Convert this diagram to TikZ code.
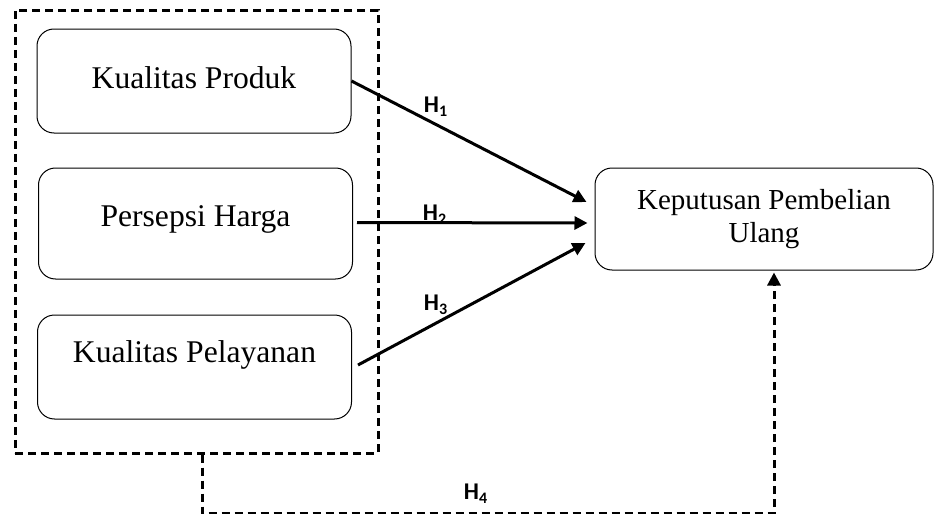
\documentclass[tikz,border=0pt]{standalone}
\usepackage{fontspec}
\setmainfont{Liberation Serif}
\newfontfamily\hfont{Carlito}
\usetikzlibrary{positioning, shapes, arrows.meta, calc}
\tikzset{
  roundbox/.style={draw, rounded corners=8.5pt, line width=0.5pt, inner sep=0,
    minimum width=157pt, minimum height=52pt, font=\fontsize{15.8}{18}\selectfont},
  targetbox/.style={draw, rounded corners=8.5pt, line width=0.5pt, inner sep=0,
    minimum width=169pt, minimum height=51pt, align=center,
    font=\fontsize{14.5}{16.5}\selectfont},
  groupbox/.style={draw, line width=1.5pt, dash pattern=on 4pt off 2.5pt,
    minimum width=181.5pt, minimum height=221.5pt, inner sep=0},
  arrowline/.style={line width=1.5pt, -{Triangle[length=6.5pt,width=6.5pt]}},
  dashline/.style={line width=1.5pt, dash pattern=on 4pt off 2.5pt,
    -{Triangle[length=6.5pt,width=6.5pt]}},
  hlabel/.style={font=\hfont\bfseries\fontsize{12}{13}\selectfont, inner sep=0}
}
\begin{document}
\begin{tikzpicture}[x=0.5pt, y=-0.5pt]
\useasboundingbox (0,0) rectangle (934,514);

% variabel bebas
\node [groupbox] (grup) at (196.5,231.5) {};
\node [roundbox, text depth=3.5pt] (produk) at (194,81) {Kualitas Produk};
\node [roundbox, minimum height=55.5pt, text depth=7.9pt] (harga) at (195.5,223.5) {Persepsi Harga};
\node [roundbox, text depth=15.4pt] (pelayanan) at (194.5,367) {Kualitas Pelayanan};

% variabel terikat
\node [targetbox] (keputusan) at (764,219) {Keputusan Pembelian\\Ulang};

\coordinate (t1) at ($(keputusan.west)+(-8,-17)$);
\coordinate (t2) at ($(keputusan.west)+(-7,4)$);
\coordinate (t3) at ($(keputusan.west)+(-9,24)$);
\draw[arrowline] (produk.east) -- (t1);
\draw[arrowline] ($(harga.east)+(4,-1)$) -- (t2);
\draw[arrowline] ($(pelayanan.east)+(6,-2)$) -- (t3);

%\draw[dashline] (grup.south) |- (keputusan.south);
\coordinate (h4start) at ($(grup.south)+(6,0)$);
\coordinate (h4end) at ($(keputusan.south)+(10,2)$);
\draw[dashline] (h4start) -- ++(0,59) -| (h4end);

\node [hlabel] (h1) at (436,107) {H\textsubscript{1}};
\node [hlabel] (h2) at (435,215) {H\textsubscript{2}};
\node [hlabel] (h3) at (436,305) {H\textsubscript{3}};
\node [hlabel] (h4) at (476,494) {H\textsubscript{4}};

\end{tikzpicture}
\end{document}
